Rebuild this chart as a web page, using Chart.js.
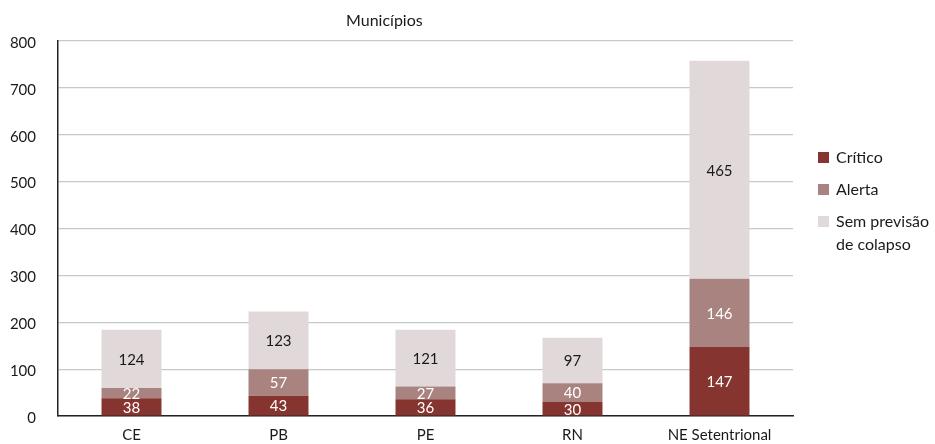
<!DOCTYPE html>
<html>
<head>
<meta charset="utf-8">
<script src="https://cdn.jsdelivr.net/npm/chart.js@4"></script>
<style>
  body { margin: 0; background: #fff; overflow: hidden; }
  #wrap { width: 935px; height: 444px; }
  canvas { display: block; }
</style>
</head>
<body>
<div id="wrap"><canvas id="barChart" width="935" height="444"></canvas></div>
<script>
// Data
const categories = ['CE', 'PB', 'PE', 'RN', 'NE Setentrional'];
const critico = [38, 43, 36, 30, 147];
const alerta = [22, 57, 27, 40, 146];
const semPrevisao = [124, 123, 121, 97, 465];
const legendLabels = [['Crítico'], ['Alerta'], ['Sem previsão', 'de colapso']];
const yTicks = [0, 100, 200, 300, 400, 500, 600, 700, 800];

const FONT = 'Lato, "Open Sans", sans-serif';
const colors = ['#86342f', '#a8837f', '#e1d9d9'];
const labelColors = ['#ffffff', '#ffffff', '#1a1a1a'];

// value labels inside each segment
const segmentLabels = {
  id: 'segmentLabels',
  afterDatasetsDraw(chart) {
    const c = chart.ctx;
    c.save();
    c.font = '15px ' + FONT;
    c.textAlign = 'center';
    c.textBaseline = 'middle';
    chart.data.datasets.forEach((ds, i) => {
      const meta = chart.getDatasetMeta(i);
      meta.data.forEach((bar, j) => {
        const p = bar.getProps(['x', 'y', 'base'], true);
        c.fillStyle = labelColors[i];
        c.fillText(ds.data[j], p.x, (p.y + p.base) / 2 + 1);
      });
    });
    c.restore();
  }
};

// title + legend on the right
const extras = {
  id: 'extras',
  afterDraw(chart) {
    const c = chart.ctx;
    const a = chart.chartArea;
    c.save();
    c.font = '16px ' + FONT;
    c.fillStyle = '#1a1a1a';
    c.textAlign = 'center';
    c.textBaseline = 'middle';
    c.fillText('Municípios', a.left + (a.right - a.left) * 0.444, 21);

    const lx = a.right + 25;
    const y0 = 157;
    c.textAlign = 'left';
    legendLabels.forEach((lines, i) => {
      const y = y0 + i * 32;
      c.fillStyle = colors[i];
      c.fillRect(lx, y - 5, 11, 11);
      c.fillStyle = '#1a1a1a';
      lines.forEach((t, k) => c.fillText(t, lx + 18, y + k * 23 + 1));
    });
    c.restore();
  }
};

const config = {
  type: 'bar',
  data: {
    labels: categories,
    datasets: [
      { label: 'Crítico', data: critico, backgroundColor: colors[0] },
      { label: 'Alerta', data: alerta, backgroundColor: colors[1] },
      { label: 'Sem previsão de colapso', data: semPrevisao, backgroundColor: colors[2] }
    ]
  },
  options: {
    responsive: false,
    animation: false,
    layout: { padding: { top: 41, right: 142, left: 0, bottom: 0 } },
    datasets: { bar: { barPercentage: 0.408, categoryPercentage: 1 } },
    scales: {
      x: {
        stacked: true,
        grid: { display: false },
        border: { color: '#222', width: 1.5 },
        ticks: { color: '#1a1a1a', font: { family: FONT, size: 15 }, padding: 2 },
        afterFit(s) { s.height = 28; }
      },
      y: {
        stacked: true,
        min: 0,
        max: 800,
        afterBuildTicks(s) { s.ticks = yTicks.map(v => ({ value: v })); },
        grid: { color: '#c8c8c8', lineWidth: 1.2, drawTicks: false },
        border: { color: '#222', width: 1.5 },
        ticks: { color: '#1a1a1a', font: { family: FONT, size: 15 }, padding: 22, labelOffset: 2 },
        afterFit(s) {
          s.width = 58;
          s.paddingTop = 0;
          s.paddingBottom = 0;
        }
      }
    },
    plugins: {
      legend: { display: false },
      tooltip: { enabled: false }
    }
  },
  plugins: [segmentLabels, extras]
};

const myChart = new Chart(document.getElementById('barChart').getContext('2d'), config);
</script>
</body>
</html>
